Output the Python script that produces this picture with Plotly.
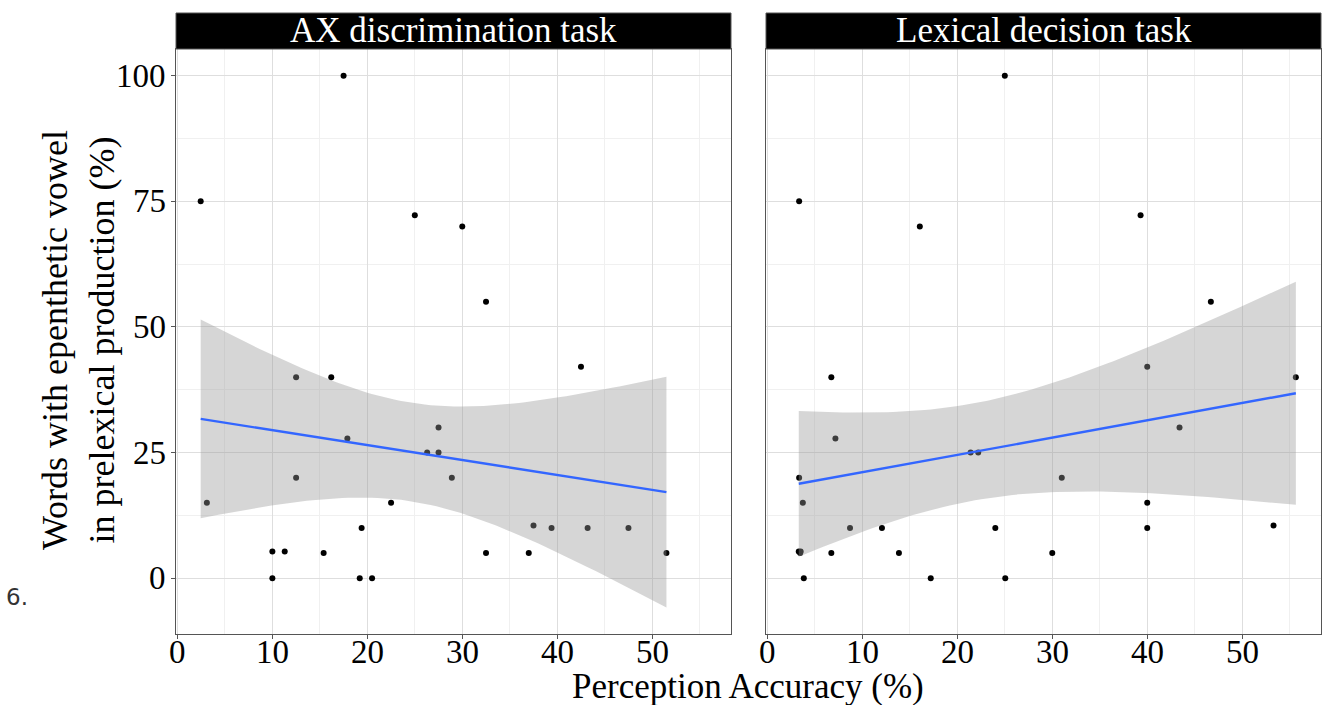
import numpy as np
import plotly.graph_objects as go

# ---- data ----
ax_x = [2.45, 3.1, 10.0, 10.0, 11.3, 12.5, 12.5, 15.4, 16.2, 17.5, 17.9, 19.2, 19.4, 20.5, 22.5,
        25.0, 26.3, 27.5, 27.5, 28.9, 30.0, 32.5, 32.5, 37.0, 37.5, 39.4, 42.5, 43.2, 47.5, 51.5]
ax_y = [75, 15, 5.3, 0, 5.3, 40, 20, 5, 40, 100, 27.8, 0, 10, 0, 15,
        72.2, 25, 30, 25, 20, 70, 55, 5, 5, 10.5, 10, 42.1, 10, 10, 5]

lex_x = [3.34, 16.05, 25.0, 39.3, 46.7, 6.73, 7.16, 3.34, 3.73, 8.7, 12.06, 3.3, 3.5, 3.45, 6.73,
         13.85, 3.83, 17.2, 21.4, 22.2, 24.0, 25.05, 30.0, 40.0, 55.65, 43.4, 31.0, 40.0, 40.0, 53.3]
lex_y = [75, 70, 100, 72.2, 55, 40, 27.8, 20, 15, 10, 10, 5.3, 5.3, 5, 5,
         5, 0, 0, 25, 25, 10, 0, 5, 42.1, 40, 30, 20, 15, 10, 10.5]

panel_titles = ["AX discrimination task", "Lexical decision task"]
x_ticks = [0, 10, 20, 30, 40, 50]
y_ticks = [0, 25, 50, 75, 100]

FONT = "Liberation Serif"
T975_DF28 = 2.0484  # t quantile, df = n - 2 = 28


def lm_ci(x, y, n=80):
    x = np.asarray(x, float)
    y = np.asarray(y, float)
    b, a = np.polyfit(x, y, 1)
    resid = y - (a + b * x)
    N = len(x)
    s = np.sqrt(np.sum(resid ** 2) / (N - 2))
    xm = x.mean()
    sxx = np.sum((x - xm) ** 2)
    xs = np.linspace(x.min(), x.max(), n)
    fit = a + b * xs
    se = s * np.sqrt(1.0 / N + (xs - xm) ** 2 / sxx)
    return xs, fit, fit - T975_DF28 * se, fit + T975_DF28 * se


fig = go.Figure()

for i, (xd, yd) in enumerate([(ax_x, ax_y), (lex_x, lex_y)]):
    xa = "x" if i == 0 else "x2"
    ya = "y" if i == 0 else "y2"
    fig.add_trace(go.Scatter(x=xd, y=yd, mode="markers", xaxis=xa, yaxis=ya,
                             marker=dict(color="black", size=6), showlegend=False))
    xs, fit, lo, hi = lm_ci(xd, yd)
    fig.add_trace(go.Scatter(x=np.concatenate([xs, xs[::-1]]),
                             y=np.concatenate([hi, lo[::-1]]),
                             fill="toself", fillcolor="rgba(153,153,153,0.4)",
                             line=dict(width=0), mode="lines", xaxis=xa, yaxis=ya,
                             hoverinfo="skip", showlegend=False))
    fig.add_trace(go.Scatter(x=xs, y=fit, mode="lines", xaxis=xa, yaxis=ya,
                             line=dict(color="#3366FF", width=2.4), showlegend=False))

W, H = 1329, 705
y_bot, y_top, strip_top = 634, 49, 13
ydom = [(H - y_bot) / H, (H - y_top) / H]
xdom1 = [176 / W, 731 / W]
xdom2 = [766 / W, 1321 / W]

xr = [-0.15, 58.3]
yr = [-11.1, 105.3]
TICK_SIZE = 33

axis_common = dict(showline=True, mirror=True, linecolor="#555555", linewidth=1,
                   showgrid=True, gridcolor="#dedede", gridwidth=1, zeroline=False,
                   ticks="outside", ticklen=4, tickcolor="#555555", automargin=False,
                   showticklabels=False)

fig.update_layout(
    width=W, height=H, margin=dict(l=0, r=0, t=0, b=0, pad=0),
    plot_bgcolor="white", paper_bgcolor="white",
    xaxis=dict(domain=xdom1, range=xr, anchor="y", tickvals=x_ticks,
               minor=dict(dtick=5, tick0=0, showgrid=True, gridcolor="#f0f0f0"),
               **axis_common),
    yaxis=dict(domain=ydom, range=yr, anchor="x", tickvals=y_ticks,
               minor=dict(dtick=12.5, tick0=0, showgrid=True, gridcolor="#f0f0f0"),
               **axis_common),
    xaxis2=dict(domain=xdom2, range=xr, anchor="y2", tickvals=x_ticks,
                minor=dict(dtick=5, tick0=0, showgrid=True, gridcolor="#f0f0f0"),
                **axis_common),
    yaxis2=dict(domain=ydom, range=yr, anchor="x2", tickvals=y_ticks,
                minor=dict(dtick=12.5, tick0=0, showgrid=True, gridcolor="#f0f0f0"),
                **{**axis_common, "ticks": ""}),
)

shapes = []
annotations = []
for dom, title in zip([xdom1, xdom2], panel_titles):
    shapes.append(dict(type="rect", xref="paper", yref="paper",
                       x0=dom[0], x1=dom[1], y0=ydom[1], y1=(H - strip_top) / H,
                       fillcolor="black", line=dict(color="#555555", width=1)))
    annotations.append(dict(text=title, xref="paper", yref="paper",
                            x=(dom[0] + dom[1]) / 2, y=(H - (strip_top + y_top) / 2) / H,
                            xanchor="center", yanchor="middle", showarrow=False,
                            font=dict(family=FONT, size=35, color="white")))

# tick labels placed through the axes' own scales
for xref in ["x", "x2"]:
    for v in x_ticks:
        annotations.append(dict(text=str(v), xref=xref, yref="paper", x=v, y=(H - 652) / H,
                                xanchor="center", yanchor="middle", showarrow=False,
                                font=dict(family=FONT, size=TICK_SIZE, color="black")))
for v in y_ticks:
    annotations.append(dict(text=str(v), xref="paper", yref="y", x=168 / W, y=v,
                            xanchor="right", yanchor="middle", showarrow=False,
                            font=dict(family=FONT, size=TICK_SIZE, color="black")))

annotations.append(dict(text="Words with epenthetic vowel<br>in prelexical production (%)",
                        xref="paper", yref="paper", x=78 / W, y=(H - 340) / H,
                        xanchor="center", yanchor="middle", textangle=-90, showarrow=False,
                        font=dict(family=FONT, size=36, color="black")))
annotations.append(dict(text="Perception Accuracy (%)", xref="paper", yref="paper",
                        x=748 / W, y=(H - 686) / H, xanchor="center", yanchor="middle",
                        showarrow=False, font=dict(family=FONT, size=35, color="black")))
annotations.append(dict(text="6.", xref="paper", yref="paper",
                        x=4 / W, y=(H - 597) / H, xanchor="left", yanchor="middle",
                        showarrow=False, font=dict(family="DejaVu Sans", size=23, color="#333333")))

fig.update_layout(shapes=shapes, annotations=annotations)

fig.write_html("out.html")
